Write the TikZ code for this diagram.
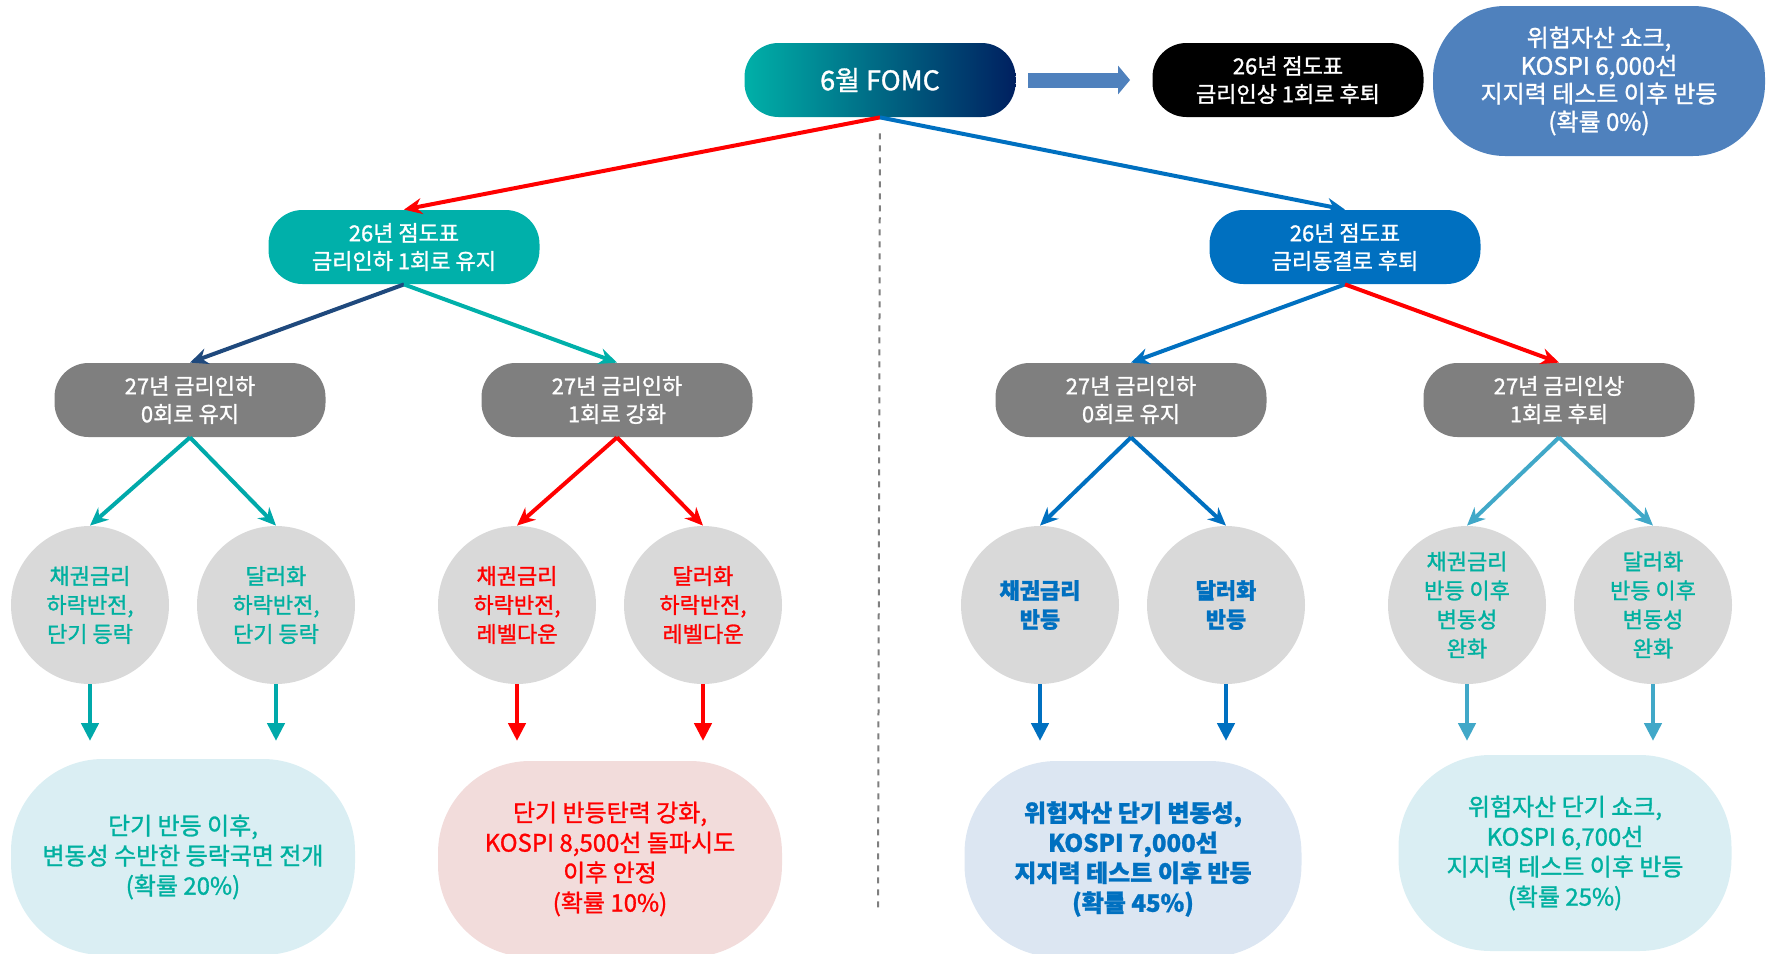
\documentclass[tikz,border=0pt]{standalone}
\usepackage{fontspec}
\setmainfont{Noto Sans CJK KR}[RawFeature={embolden=1.2}]
\usetikzlibrary{arrows.meta}

\definecolor{fomcteal}{RGB}{0,176,168}
\definecolor{fomcblue}{RGB}{0,112,192}
\definecolor{fomcnavy}{RGB}{0,32,96}
\definecolor{cutteal}{RGB}{0,176,170}
\definecolor{holdblue}{RGB}{0,112,192}
\definecolor{stepgray}{RGB}{127,127,127}
\definecolor{ballgray}{RGB}{217,217,217}
\definecolor{shockblue}{RGB}{79,129,189}
\definecolor{navyarr}{RGB}{31,73,125}
\definecolor{tealarr}{RGB}{0,169,170}
\definecolor{lightarr}{RGB}{65,168,200}
\definecolor{tealtext}{RGB}{0,176,160}
\definecolor{redtext}{RGB}{255,0,0}
\definecolor{fillA}{RGB}{218,238,243}
\definecolor{fillB}{RGB}{242,220,219}
\definecolor{fillC}{RGB}{220,230,242}

\begin{document}
\begin{tikzpicture}[x=0.5pt,y=-0.5pt,
	pill/.style={rounded corners=17pt, minimum width=135.5pt, minimum height=37pt, inner sep=0pt, text=white, align=center, font=\fontsize{11}{14}\selectfont},
	ball/.style={circle, fill=ballgray, minimum size=79pt, inner sep=0pt, align=center, font=\fontsize{11}{14.5}\selectfont},
	outcome/.style={rounded corners=46pt, minimum width=172pt, minimum height=98pt, inner sep=0pt, align=center, font=\fontsize{12}{15}\selectfont},
	link/.style={line width=2pt, -{Stealth[length=9pt,width=8pt]}},
	drop/.style={line width=2.4pt, -{Triangle[length=9pt,width=8.5pt]}}]
	\clip (0,0) rectangle (1769,954);

	\node[pill, left color=fomcteal, middle color=fomcblue, right color=fomcnavy, font=\fontsize{13.5}{16}\selectfont] (fomc) at (880,80) {6월 FOMC};
	\node[pill, fill=black] (hike) at (1288,80) {26년 점도표\\금리인상 1회로 후퇴};
	\node[rounded corners=36pt, fill=shockblue, minimum width=166pt, minimum height=75pt, inner sep=0pt, text=white, align=center, font=\fontsize{12}{14}\selectfont] (shock) at (1599,81) {위험자산 쇼크,\\KOSPI 6,000선\\지지력 테스트 이후 반등\\(확률 0\%)};
	\draw[shockblue, line width=7.5pt, shorten <=6pt, shorten >=11pt, -{Triangle[length=6pt,width=14pt]}] (fomc) -- (hike);

	\coordinate (axis end) at (878,908);
	\draw[stepgray, dashed, line width=1pt, shorten <=8pt] (fomc.south) -- (axis end);

	\node[pill, fill=cutteal] (cut) at (404,247) {26년 점도표\\금리인하 1회로 유지};
	\node[pill, fill=holdblue] (hold) at (1345,247) {26년 점도표\\금리동결로 후퇴};
	\draw[link, red] (fomc.south) -- (cut.north);
	\draw[link, holdblue] (fomc.south) -- (hold.north);

	\node[pill, fill=stepgray] (cutA) at (190,400) {27년 금리인하\\0회로 유지};
	\node[pill, fill=stepgray] (cutB) at (617,400) {27년 금리인하\\1회로 강화};
	\node[pill, fill=stepgray] (holdA) at (1131,400) {27년 금리인하\\0회로 유지};
	\node[pill, fill=stepgray] (holdB) at (1559,400) {27년 금리인상\\1회로 후퇴};
	\draw[link, navyarr] (cut.south) -- (cutA.north);
	\draw[link, cutteal] (cut.south) -- (cutB.north);
	\draw[link, holdblue] (hold.south) -- (holdA.north);
	\draw[link, red] (hold.south) -- (holdB.north);

	\node[ball, text=tealtext] (bondA) at (90,605) {채권금리\\하락반전,\\단기 등락};
	\node[ball, text=tealtext] (dollarA) at (276,605) {달러화\\하락반전,\\단기 등락};
	\node[ball, text=redtext] (bondB) at (517,605) {채권금리\\하락반전,\\레벨다운};
	\node[ball, text=redtext] (dollarB) at (703,605) {달러화\\하락반전,\\레벨다운};
	\node[ball, text=holdblue, font=\bfseries\fontsize{11}{14.5}\selectfont] (bondC) at (1040,605) {채권금리\\반등};
	\node[ball, text=holdblue, font=\bfseries\fontsize{11}{14.5}\selectfont] (dollarC) at (1226,605) {달러화\\반등};
	\node[ball, text=tealtext] (bondD) at (1467,605) {채권금리\\반등 이후\\변동성\\완화};
	\node[ball, text=tealtext] (dollarD) at (1653,605) {달러화\\반등 이후\\변동성\\완화};
	\draw[link, tealarr] (cutA.south) -- (bondA.north);
	\draw[link, tealarr] (cutA.south) -- (dollarA.north);
	\draw[link, red] (cutB.south) -- (bondB.north);
	\draw[link, red] (cutB.south) -- (dollarB.north);
	\draw[link, holdblue] (holdA.south) -- (bondC.north);
	\draw[link, holdblue] (holdA.south) -- (dollarC.north);
	\draw[link, lightarr] (holdB.south) -- (bondD.north);
	\draw[link, lightarr] (holdB.south) -- (dollarD.north);

	\coordinate (endA1) at (90,741);
	\coordinate (endA2) at (276,741);
	\coordinate (endB1) at (517,741);
	\coordinate (endB2) at (703,741);
	\coordinate (endC1) at (1040,741);
	\coordinate (endC2) at (1226,741);
	\coordinate (endD1) at (1467,741);
	\coordinate (endD2) at (1653,741);
	\draw[drop, tealarr] (bondA.south) -- (endA1);
	\draw[drop, tealarr] (dollarA.south) -- (endA2);
	\draw[drop, red] (bondB.south) -- (endB1);
	\draw[drop, red] (dollarB.south) -- (endB2);
	\draw[drop, holdblue] (bondC.south) -- (endC1);
	\draw[drop, holdblue] (dollarC.south) -- (endC2);
	\draw[drop, lightarr] (bondD.south) -- (endD1);
	\draw[drop, lightarr] (dollarD.south) -- (endD2);

	\node[outcome, fill=fillA, text=tealtext] (sceneA) at (183,857) {단기 반등 이후,\\변동성 수반한 등락국면 전개\\(확률 20\%)};
	\node[outcome, fill=fillB, text=redtext] (sceneB) at (610,859) {단기 반등탄력 강화,\\KOSPI 8,500선 돌파시도\\이후 안정\\(확률 10\%)};
	\node[outcome, fill=fillC, text=holdblue, minimum width=168.5pt, font=\bfseries\fontsize{12}{15}\selectfont] (sceneC) at (1133,859) {위험자산 단기 변동성,\\KOSPI 7,000선\\지지력 테스트 이후 반등\\(확률 45\%)};
	\node[outcome, fill=fillA, text=tealtext, minimum width=166.5pt] (sceneD) at (1565,853) {위험자산 단기 쇼크,\\KOSPI 6,700선\\지지력 테스트 이후 반등\\(확률 25\%)};
\end{tikzpicture}
\end{document}
